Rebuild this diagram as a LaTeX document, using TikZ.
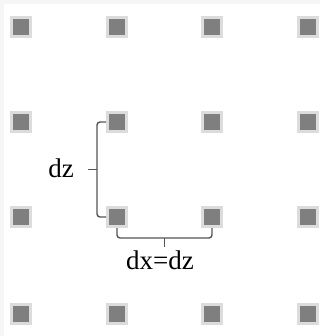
\documentclass[tikz,border=0pt]{standalone}
\usepackage{fontspec}
\setmainfont{Liberation Serif}
\usetikzlibrary{calc}
\definecolor{sqouter}{HTML}{DCDCDC}
\definecolor{sqinner}{HTML}{7F7F7F}
\definecolor{linec}{HTML}{555555}
\definecolor{stripc}{HTML}{F6F6F6}
\begin{document}
\begin{tikzpicture}[x=1pt,y=-1pt,
  pt/.style={draw=sqouter,line width=3pt,fill=sqinner,minimum size=19pt,inner sep=0pt,outer sep=1.5pt},
  bracket/.style={draw=linec,line width=1.4pt,rounded corners=3pt},
  lbl/.style={font=\fontsize{27}{30}\selectfont,inner sep=0pt}]
\useasboundingbox (0,0) rectangle (320,336);
\fill[stripc] (0,0) rectangle (320,4);
\fill[stripc] (0,0) rectangle (4,336);
\foreach \c/\x in {1/21,2/117,3/212,4/308}{
  \foreach \r/\y in {1/27,2/122,3/217,4/314}{
    \node[pt] (s\r\c) at (\x,\y) {};
  }
}
% dz bracket
\draw[bracket] (s22.west) -- ++(-9,0) coordinate (dzt) |- (s32.west);
\coordinate (dzm) at ($(dzt)!0.5!(dzt|-s32.west)$);
\draw[draw=linec,line width=1.4pt] (dzm) -- ++(-9,0) coordinate (dztick);
\node[lbl] (dz) at (61,168) {dz};
% dx bracket
\draw[bracket] (s32.south) -- ++(0,10) coordinate (dxl) -| (s33.south);
\coordinate (dxm) at ($(dxl)!0.5!(dxl-|s33.south)$);
\draw[draw=linec,line width=1.4pt] (dxm) -- ++(0,9) coordinate (dxtick);
\node[lbl] (dx) at (160,260) {dx=dz};
\end{tikzpicture}
\end{document}
